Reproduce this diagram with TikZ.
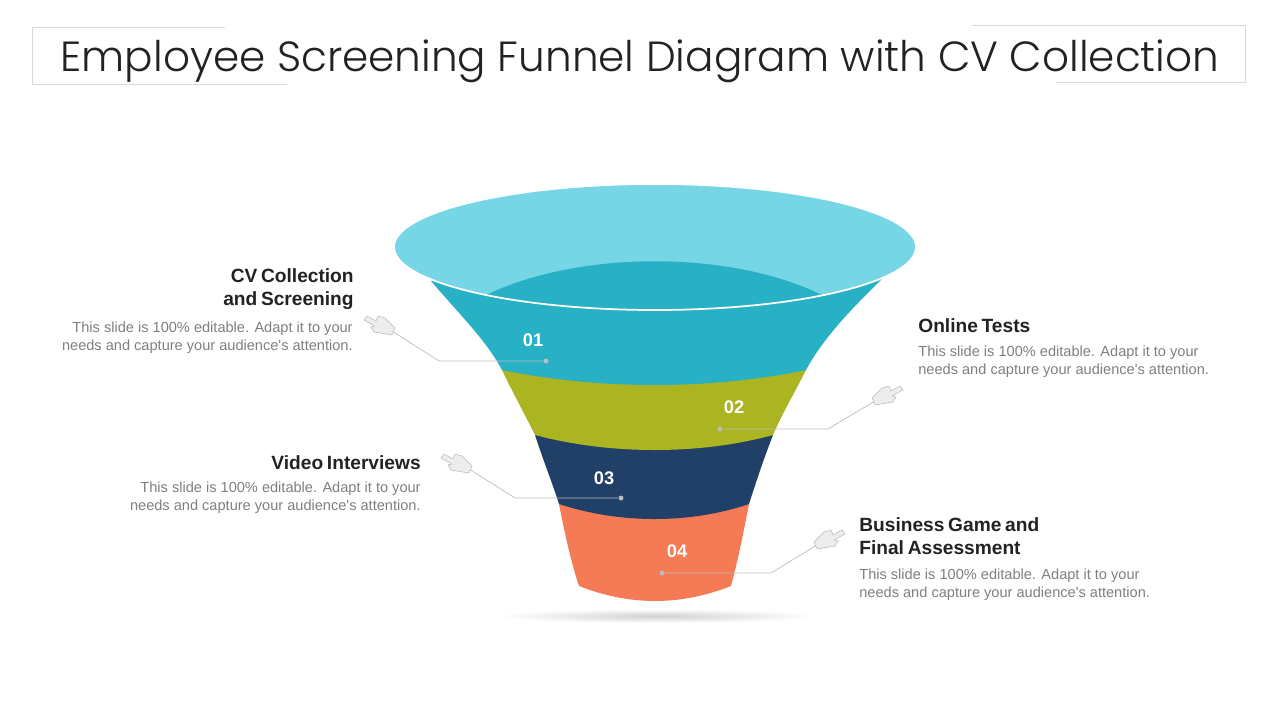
\documentclass[tikz,border=0pt]{standalone}
\usepackage{fontspec}
\setmainfont{Liberation Sans}
\newfontfamily\titlefont{Poppins Light}
\newfontfamily\headfont[WordSpace=0.7]{Liberation Sans Bold}
\newfontfamily\bodyfont{Liberation Sans}
\usepackage{xcolor}
\usetikzlibrary{calc}

\definecolor{rimblue}{HTML}{76D6E6}
\definecolor{bandblue}{HTML}{28B0C5}
\definecolor{bandolive}{HTML}{ABB521}
\definecolor{bandnavy}{HTML}{214067}
\definecolor{bandorange}{HTML}{F47B55}
\definecolor{headtext}{HTML}{222222}
\definecolor{bodytext}{HTML}{7F7F7F}
\definecolor{leadgray}{HTML}{BDBDBD}

\tikzset{
	head/.style = {font = \fontsize{10.9pt}{13pt}\headfont, text = headtext, inner sep = 0pt},
	body/.style = {font = \fontsize{8.3pt}{10.2pt}\bodyfont, text = bodytext, inner sep = 0pt},
	num/.style = {font = \fontsize{10.4pt}{12pt}\selectfont\bfseries, text = white, inner sep = 0pt},
	leader/.style = {draw = leadgray, line width = 0.4pt},
	leaddot/.style = {circle, fill = leadgray, inner sep = 0pt, minimum size = 2.8pt},
	frameline/.style = {draw = black!15, line width = 0.5pt},
	handicon/.pic = {
		\filldraw [fill = black!7, draw = black!28, line width = 0.3pt, line join = round]
			(-28,-11) -- (-25,-15) -- (-16,-10) -- (-14,-15) -- (-7,-13) -- (3,-3) -- (0,4)
			-- (-6,3) -- (-18,1) -- (-21,-4) -- (-17,-5) -- cycle;
	}
}

\begin{document}
\begin{tikzpicture}[x=0.02cm, y=-0.02cm]
	\useasboundingbox (0,0) rectangle (1280,720);

	% title frame
	\draw [frameline] (225,27) -- (32,27) -- (32,84) -- (287,84);
	\draw [frameline] (972,25) -- (1245,25) -- (1245,82) -- (1056,82);
	\node (title) [font = \fontsize{24pt}{28pt}\titlefont, text = headtext, inner sep = 0pt, anchor = base] at (640,71) {Employee Screening Funnel Diagram with CV Collection};

	% shadow
	\shade [inner color = black!18, outer color = white] (657,616) ellipse [x radius = 160, y radius = 7];

	% funnel
	\fill [bandorange] (559,504) .. controls (566,540) and (572,565) .. (579,586)
		.. controls (630,606) and (680,606) .. (731,586)
		.. controls (738,560) and (743,535) .. (749,504) -- cycle;
	\fill [bandnavy] (535,435) .. controls (543,460) and (552,482) .. (559,504)
		.. controls (620,524) and (690,524) .. (749,504)
		.. controls (756,482) and (764,458) .. (773,435) -- cycle;
	\fill [bandolive] (502,370) .. controls (514,395) and (525,415) .. (535,435)
		.. controls (610,455) and (700,455) .. (773,435)
		.. controls (783,412) and (795,392) .. (806,370) -- cycle;
	\fill [bandblue] (431,281) .. controls (460,315) and (486,340) .. (502,370)
		.. controls (600,390) and (710,390) .. (806,370)
		.. controls (822,340) and (850,310) .. (882,279) -- cycle;
	\fill [rimblue] (655,247) ellipse [x radius = 261, y radius = 63];
	\begin{scope}
		\clip (655,247) ellipse [x radius = 261, y radius = 63];
		\fill [bandblue] (486,295) .. controls (580,250) and (730,250) .. (822,295) -- (822,320) -- (486,320) -- cycle;
	\end{scope}
	\draw [white, line width = 1pt] (655,247) ellipse [x radius = 261, y radius = 63];

	% numbers
	\node (num1) [num] at (533,340) {01};
	\node (num2) [num] at (734,407) {02};
	\node (num3) [num] at (604,478) {03};
	\node (num4) [num] at (677,551) {04};

	% leaders with hands
	\node (dot1) [leaddot] at (546,361) {};
	\node (dot2) [leaddot] at (720,429) {};
	\node (dot3) [leaddot] at (621,498) {};
	\node (dot4) [leaddot] at (662,573) {};
	\coordinate (elbow1) at (439,361);
	\coordinate (elbow2) at (828,429);
	\coordinate (elbow3) at (515,498);
	\coordinate (elbow4) at (771,573);
	\coordinate (wrist1) at (392,331);
	\coordinate (wrist2) at (875,401);
	\coordinate (wrist3) at (469,469);
	\coordinate (wrist4) at (817,545);
	\draw [leader] (dot1) -- (elbow1) -- (wrist1);
	\draw [leader] (dot2) -- (elbow2) -- (wrist2);
	\draw [leader] (dot3) -- (elbow3) -- (wrist3);
	\draw [leader] (dot4) -- (elbow4) -- (wrist4);
	\pic at (wrist1) {handicon};
	\pic [xscale = -1] at (wrist2) {handicon};
	\pic at (wrist3) {handicon};
	\pic [xscale = -1] at (wrist4) {handicon};

	% left texts
	\node (head1) [head, anchor = east, align = right] at (354,289) {CV Collection\\and Screening};
	\node (body1) [body, anchor = east, align = right] at (353,338) {This slide is 100\% editable. Adapt it to your\\needs and capture your audience's attention.};
	\node (head3) [head, anchor = east, align = right] at (421,463) {Video Interviews};
	\node (body3) [body, anchor = east, align = right] at (421,498) {This slide is 100\% editable. Adapt it to your\\needs and capture your audience's attention.};

	% right texts
	\node (head2) [head, anchor = west, align = left] at (918,326) {Online Tests};
	\node (body2) [body, anchor = west, align = left] at (918,362) {This slide is 100\% editable. Adapt it to your\\needs and capture your audience's attention.};
	\node (head4) [head, anchor = west, align = left] at (859,536.5) {Business Game and\\Final Assessment};
	\node (body4) [body, anchor = west, align = left] at (859,585) {This slide is 100\% editable. Adapt it to your\\needs and capture your audience's attention.};
\end{tikzpicture}
\end{document}
